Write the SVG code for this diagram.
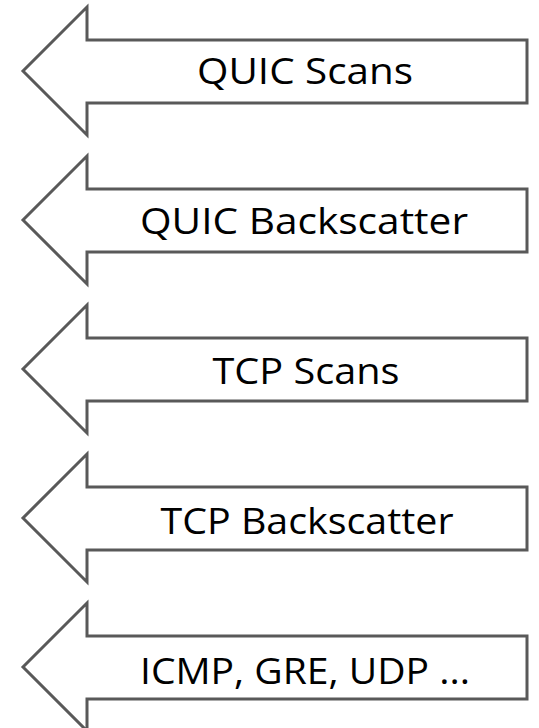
<svg xmlns="http://www.w3.org/2000/svg" width="539" height="728" viewBox="0 0 539 728">
  <style>
    .arrow { fill: #ffffff; stroke: #595959; stroke-width: 3; stroke-linejoin: miter; }
    .label { font-family: "Open Sans", "Liberation Sans", sans-serif; font-size: 36px; fill: #000000; text-anchor: middle; }
  </style>
  <defs>
    <!-- left-pointing block arrow, 128 px tall, head tip at y=64 -->
    <path id="leftArrow" class="arrow" d="M527,33 L87,33 L87,0 L23,64 L87,128 L87,96 L527,96 Z"/>
  </defs>
  <rect width="539" height="728" fill="#ffffff"/>
  <g id="quic-scans" transform="translate(0,7)">
    <use href="#leftArrow"/>
    <text class="label" x="305" y="77" textLength="216" lengthAdjust="spacingAndGlyphs">QUIC Scans</text>
  </g>
  <g id="quic-backscatter" transform="translate(0,156)">
    <use href="#leftArrow"/>
    <text class="label" x="304" y="78" textLength="328" lengthAdjust="spacingAndGlyphs">QUIC Backscatter</text>
  </g>
  <g id="tcp-scans" transform="translate(0,305)">
    <use href="#leftArrow"/>
    <text class="label" x="306" y="79" textLength="187" lengthAdjust="spacingAndGlyphs">TCP Scans</text>
  </g>
  <g id="tcp-backscatter" transform="translate(0,454)">
    <use href="#leftArrow"/>
    <text class="label" x="307" y="80" textLength="293" lengthAdjust="spacingAndGlyphs">TCP Backscatter</text>
  </g>
  <g id="icmp-gre-udp" transform="translate(0,603)">
    <use href="#leftArrow"/>
    <text class="label" x="305" y="81" textLength="330" lengthAdjust="spacingAndGlyphs">ICMP, GRE, UDP ...</text>
  </g>
</svg>
